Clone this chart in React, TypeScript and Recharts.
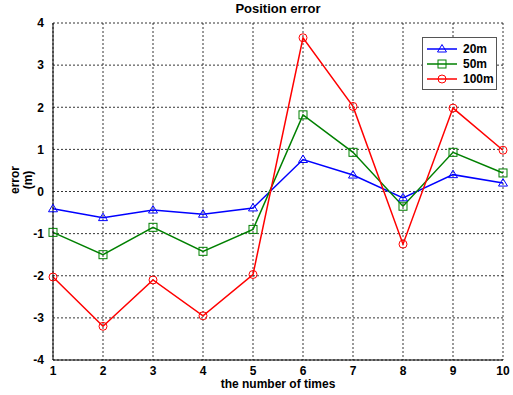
import { LineChart, Line, XAxis, YAxis, CartesianGrid } from "recharts";

const times = [1, 2, 3, 4, 5, 6, 7, 8, 9, 10];
const err20 = [-0.41, -0.62, -0.44, -0.54, -0.39, 0.76, 0.39, -0.15, 0.4, 0.2];
const err50 = [-0.97, -1.5, -0.85, -1.42, -0.9, 1.82, 0.93, -0.35, 0.93, 0.44];
const err100 = [-2.03, -3.2, -2.1, -2.95, -1.97, 3.65, 2.02, -1.25, 1.98, 0.98];
const yTicks = [-4, -3, -2, -1, 0, 1, 2, 3, 4];

const data = times.map((t, i) => ({
  t,
  e20: err20[i],
  e50: err50[i],
  e100: err100[i],
}));

const FONT = "'Liberation Sans', Arial, sans-serif";

const Triangle = ({ cx, cy, stroke }: any) => (
  <polygon
    points={`${cx},${cy - 4.5} ${cx - 4.5},${cy + 3} ${cx + 4.5},${cy + 3}`}
    fill="none"
    stroke={stroke}
    strokeWidth={1}
  />
);

const Square = ({ cx, cy, stroke }: any) => (
  <rect x={cx - 4} y={cy - 4} width={8} height={8} fill="none" stroke={stroke} strokeWidth={1} />
);

const Circle = ({ cx, cy, stroke }: any) => (
  <circle cx={cx} cy={cy} r={4} fill="none" stroke={stroke} strokeWidth={1} />
);

const legendItems = [
  { name: "20m", color: "#0000ff", Marker: Triangle },
  { name: "50m", color: "#008000", Marker: Square },
  { name: "100m", color: "#ff0000", Marker: Circle },
];

const LegendBox = () => (
  <div
    style={{
      position: "absolute",
      top: 37,
      left: 422,
      width: 73,
      border: "1px solid #555",
      background: "#fff",
      padding: "3px 0 3px 0",
      fontFamily: FONT,
      fontWeight: "bold",
      fontSize: 12,
      color: "#000",
    }}
  >
    {legendItems.map(({ name, color, Marker }) => (
      <div key={name} style={{ display: "flex", alignItems: "center", height: 15 }}>
        <svg width={38} height={12}>
          <line x1={4} y1={6} x2={34} y2={6} stroke={color} strokeWidth={1.5} />
          <Marker cx={19} cy={6} stroke={color} />
        </svg>
        <span style={{ marginLeft: 2 }}>{name}</span>
      </div>
    ))}
  </div>
);

const tickStyle = { fill: "#000", fontSize: 12, fontWeight: "bold", fontFamily: FONT };

export default function App() {
  return (
    <div style={{ position: "absolute", left: 0, top: 0, width: 513, height: 395, background: "#fff" }}>
      <LineChart
        width={513}
        height={395}
        data={data}
        margin={{ top: 23, right: 10, bottom: 15, left: 0 }}
      >
        <CartesianGrid stroke="#000" strokeDasharray="2 2" strokeWidth={0.8} />
        <XAxis
          dataKey="t"
          type="number"
          domain={[1, 10]}
          ticks={times}
          height={20}
          tick={tickStyle}
          tickLine={false}
          axisLine={{ stroke: "#000" }}
          tickMargin={0}
        />
        <XAxis
          xAxisId="top"
          dataKey="t"
          type="number"
          domain={[1, 10]}
          orientation="top"
          height={0}
          tick={false}
          tickLine={false}
          axisLine={{ stroke: "#000" }}
        />
        <YAxis
          type="number"
          domain={[-4, 4]}
          ticks={yTicks}
          width={53}
          tick={tickStyle}
          tickLine={false}
          axisLine={{ stroke: "#000" }}
          tickMargin={3}
        />
        <YAxis
          yAxisId="right"
          type="number"
          domain={[-4, 4]}
          orientation="right"
          width={0}
          tick={false}
          tickLine={false}
          axisLine={{ stroke: "#000" }}
        />
        <Line
          dataKey="e20"
          name="20m"
          stroke="#0000ff"
          strokeWidth={1.5}
          dot={<Triangle stroke="#0000ff" />}
          isAnimationActive={false}
        />
        <Line
          dataKey="e50"
          name="50m"
          stroke="#008000"
          strokeWidth={1.5}
          dot={<Square stroke="#008000" />}
          isAnimationActive={false}
        />
        <Line
          dataKey="e100"
          name="100m"
          stroke="#ff0000"
          strokeWidth={1.5}
          dot={<Circle stroke="#ff0000" />}
          isAnimationActive={false}
        />
      </LineChart>
      <LegendBox />
      <div
        style={{
          position: "absolute",
          top: 1,
          left: 53,
          width: 450,
          textAlign: "center",
          fontFamily: FONT,
          fontWeight: "bold",
          fontSize: 13,
        }}
      >
        Position error
      </div>
      <div
        style={{
          position: "absolute",
          top: 377,
          left: 53,
          width: 450,
          textAlign: "center",
          fontFamily: FONT,
          fontWeight: "bold",
          fontSize: 12,
        }}
      >
        the number of times
      </div>
      <div
        style={{
          position: "absolute",
          left: 24 - 40,
          top: 180 - 15,
          width: 80,
          height: 30,
          transform: "rotate(-90deg)",
          textAlign: "center",
          fontFamily: FONT,
          fontWeight: "bold",
          fontSize: 12,
          lineHeight: "13px",
        }}
      >
        error
        <br />
        (m)
      </div>
    </div>
  );
}
